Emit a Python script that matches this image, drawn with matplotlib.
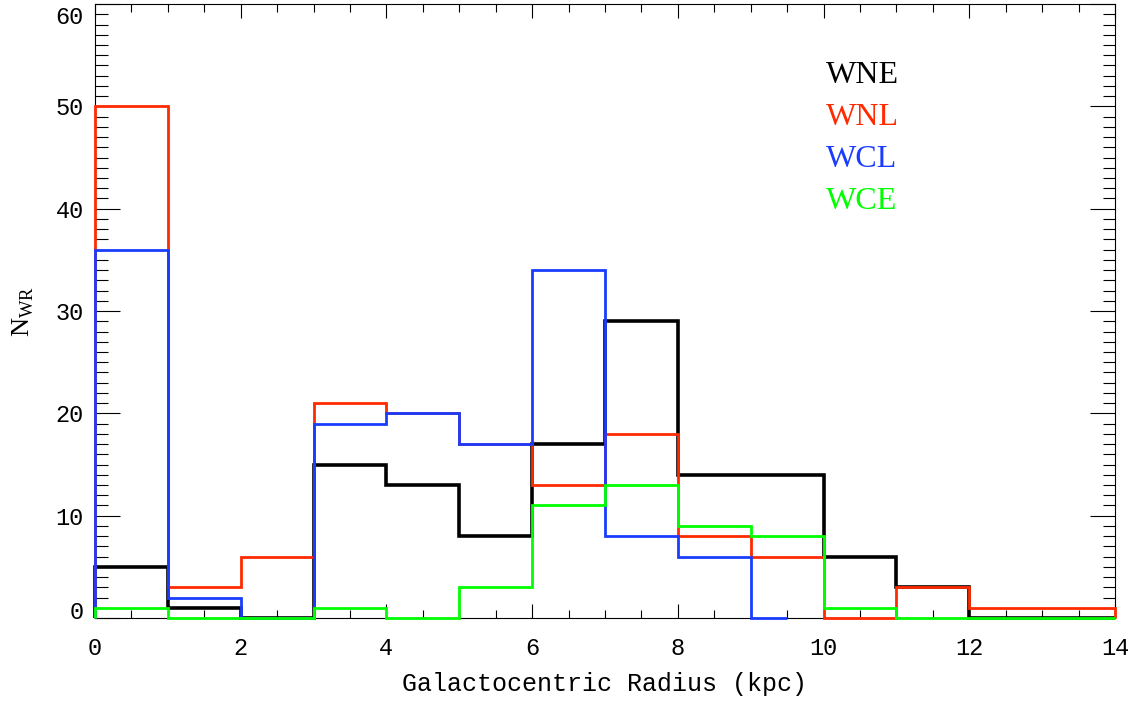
import matplotlib.pyplot as plt
from matplotlib.ticker import MultipleLocator
from matplotlib.transforms import ScaledTranslation

# histogram bins (kpc)
edges = [0, 1, 2, 3, 4, 5, 6, 7, 8, 9, 10, 11, 12, 13, 14]
wcl_edges = [0, 1, 2, 3, 4, 5, 6, 7, 8, 9, 9.5]

wne = [5, 1, 0, 15, 13, 8, 17, 29, 14, 14, 6, 3, 0, 0]
wnl = [50, 3, 6, 21, 20, 17, 13, 18, 8, 6, 0, 3, 1, 1]
wcl = [36, 2, 0, 19, 20, 17, 34, 8, 6, 0]
wce = [1, 0, 0, 1, 0, 3, 11, 13, 9, 8, 1, 0, 0, 0]

labels = ["WNE", "WNL", "WCL", "WCE"]
colors = ["black", "#ff2a00", "#1a3cff", "#00ff00"]

plt.rcParams['font.family'] = ['Liberation Mono']

fig = plt.figure(figsize=(11.43, 7.09), dpi=100)
ax = fig.add_axes([0.0831, 0.1283, 0.8924, 0.8660])

ax.stairs(wne, edges, color=colors[0], lw=2.6, clip_on=False, zorder=3)
ax.stairs(wnl, edges, color=colors[1], lw=2.0, clip_on=False, zorder=3)
ax.stairs(wcl, wcl_edges, color=colors[2], lw=2.0, clip_on=False, zorder=3)
ax.stairs(wce, edges, color=colors[3], lw=2.0, clip_on=False, zorder=3)

ax.set_xlim(0, 14)
ax.set_ylim(0, 60)

ax.xaxis.set_major_locator(MultipleLocator(2))
ax.xaxis.set_minor_locator(MultipleLocator(0.5))
ax.yaxis.set_major_locator(MultipleLocator(10))
ax.yaxis.set_minor_locator(MultipleLocator(1))
ax.tick_params(which='both', direction='in', top=True, right=True, labelsize=17, width=0.8)
ax.tick_params(axis='y', which='major', length=18, pad=8)
ax.tick_params(axis='y', which='minor', length=9)
ax.tick_params(axis='x', which='major', length=10, pad=14)
ax.tick_params(axis='x', which='minor', length=6)
for s in ax.spines.values():
    s.set_linewidth(0.8)

# end labels are pushed inside the axis range, like IDL does
fig.canvas.draw()
shift = {0: 8, 60: -11}
for lab in ax.get_yticklabels():
    v = round(lab.get_position()[1])
    if v in shift:
        lab.set_transform(lab.get_transform() +
                          ScaledTranslation(0, shift[v] / 100.0, fig.dpi_scale_trans))

ax.set_xlabel("Galactocentric Radius (kpc)", fontsize=18, labelpad=8)
ax.set_ylabel(r"N$_{\mathregular{WR}}$", fontsize=19, labelpad=14, family='Liberation Serif')

for i, (lab, c) in enumerate(zip(labels, colors)):
    ax.text(0.7165, 0.883 - i * 0.068, lab, color=c, fontsize=23, va='center', ha='left',
            transform=ax.transAxes, family='Liberation Serif')

fig.savefig("out.png", dpi=100)
